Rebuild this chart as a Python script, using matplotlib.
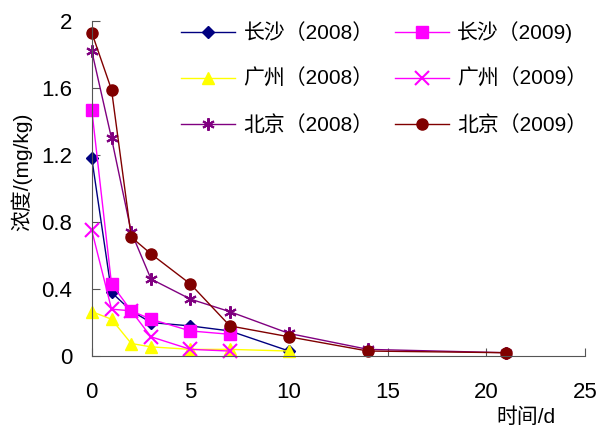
import matplotlib
matplotlib.use('Agg')
import matplotlib.pyplot as plt

plt.rcParams['font.family'] = ['Liberation Sans', 'Noto Sans CJK SC']

# 数据
cs08_x = [0, 1, 2, 3, 5, 7, 10]
cs08_y = [1.18, 0.38, 0.27, 0.20, 0.18, 0.15, 0.03]
cs09_x = [0, 1, 2, 3, 5, 7]
cs09_y = [1.47, 0.43, 0.27, 0.22, 0.15, 0.13]
gz08_x = [0, 1, 2, 3, 5, 7, 10]
gz08_y = [0.265, 0.22, 0.075, 0.055, 0.04, 0.04, 0.03]
gz09_x = [0, 1, 2, 3, 5, 7]
gz09_y = [0.75, 0.28, 0.27, 0.115, 0.04, 0.03]
bj08_x = [0, 1, 2, 3, 5, 7, 10, 14, 21]
bj08_y = [1.82, 1.30, 0.74, 0.46, 0.34, 0.265, 0.135, 0.04, 0.02]
bj09_x = [0, 1, 2, 3, 5, 7, 10, 14, 21]
bj09_y = [1.93, 1.59, 0.71, 0.61, 0.43, 0.18, 0.115, 0.03, 0.02]

labels = ['长沙（2008）', '长沙（2009)', '广州（2008）', '广州（2009）', '北京（2008）', '北京（2009）']
x_ticks = [0, 5, 10, 15, 20, 25]
y_ticks = [0, 0.4, 0.8, 1.2, 1.6, 2]
y_tick_labels = ['0', '0.4', '0.8', '1.2', '1.6', '2']

fig = plt.figure(figsize=(6, 4.29), dpi=100)
ax = fig.add_axes([0.153, 0.170, 0.822, 0.781])

kw = dict(lw=1, clip_on=False)
l1, = ax.plot(cs08_x, cs08_y, color='#000080', marker='D', ms=6, label=labels[0], **kw)
l2, = ax.plot(cs09_x, cs09_y, color='#FF00FF', marker='s', ms=8, label=labels[1], **kw)
l3, = ax.plot(gz08_x, gz08_y, color='#FFFF00', marker='^', ms=8, label=labels[2], **kw)
l4, = ax.plot(gz09_x, gz09_y, color='#FF00FF', marker='x', ms=10, mew=1.5, label=labels[3], **kw)
l5, = ax.plot(bj08_x, bj08_y, color='#800080', marker=(6, 2, 0), ms=9, mew=1.5, label=labels[4], **kw)
l6, = ax.plot(bj09_x, bj09_y, color='#800000', marker='o', ms=8, label=labels[5], **kw)

ax.set_xlim(0, 25)
ax.set_ylim(0, 2)
ax.set_xticks(x_ticks)
ax.set_yticks(y_ticks)
ax.set_yticklabels(y_tick_labels)
ax.tick_params(direction='in', length=6, labelsize=16, color='#555555')
ax.tick_params(axis='x', pad=19)
ax.tick_params(axis='y', pad=14)
for s in ['top', 'right']:
    ax.spines[s].set_visible(False)
for s in ['left', 'bottom']:
    ax.spines[s].set_color('#555555')

ax.set_ylabel('浓度/(mg/kg)', fontsize=15)
ax.yaxis.set_label_coords(-0.12, 0.55)
fig.text(0.877, 0.028, '时间/d', fontsize=15, ha='center', va='center')

ax.legend(handles=[l1, l3, l5, l2, l4, l6], ncol=2, frameon=False, fontsize=15,
          loc='upper left', bbox_to_anchor=(0.143, 1.055), handlelength=2.6,
          columnspacing=1.0, labelspacing=1.25, handletextpad=0.4)

fig.savefig('out.png', dpi=100)
